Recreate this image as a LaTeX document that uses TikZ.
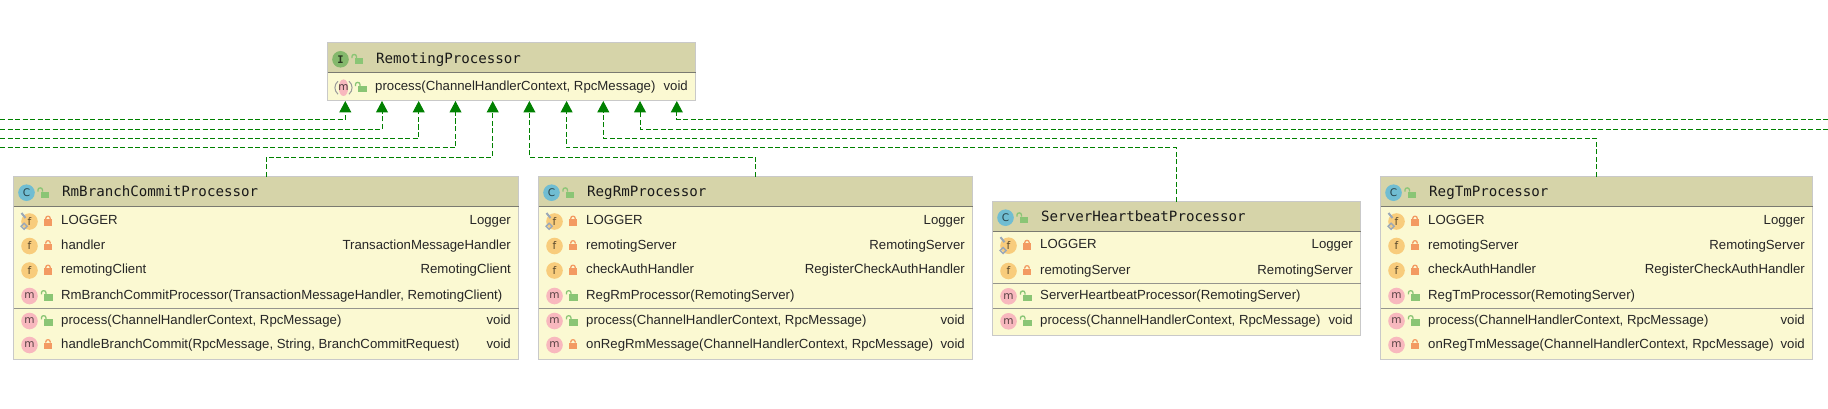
\documentclass[tikz,border=0pt]{standalone}
\usepackage{fontspec}
\setmainfont{Liberation Sans}
\newfontfamily\monof{DejaVu Sans Mono}
\newfontfamily\iconf{DejaVu Sans}
\usetikzlibrary{arrows.meta}
\definecolor{hdr}{HTML}{D6D4A9}
\definecolor{bodyc}{HTML}{FBF9D2}
\definecolor{bord}{HTML}{C9C9C9}
\definecolor{sepc}{HTML}{7A7A70}
\definecolor{fcirc}{HTML}{F8CC7C}
\definecolor{mcirc}{HTML}{F8B8BE}
\definecolor{ccirc}{HTML}{70BDD2}
\definecolor{icirc}{HTML}{84B86C}
\definecolor{lockor}{HTML}{F39A62}
\definecolor{lockgr}{HTML}{8AC575}
\definecolor{statc}{HTML}{9AA8B8}
\definecolor{arrowg}{HTML}{008000}
\tikzset{
  x=1pt,y=-1pt,
  boxbody/.style={draw=bord,line width=1pt,fill=bodyc,inner sep=0pt,outer sep=0pt},
  boxhead/.style={fill=hdr,inner sep=0pt,outer sep=0pt},
  headline/.style={draw=sepc,line width=0.9pt},
  rowline/.style={draw=sepc!80,line width=0.9pt},
  titletext/.style={anchor=base west,inner sep=0pt,font=\monof\fontsize{14.15}{16}\selectfont,text=black!90},
  rowtext/.style={anchor=base west,inner sep=0pt,font=\fontsize{13.2}{15}\selectfont,text=black!85},
  typetext/.style={anchor=base east,inner sep=0pt,font=\fontsize{13.2}{15}\selectfont,text=black!85},
  icon/.style={circle,minimum size=16.6pt,inner sep=0pt,font=\iconf\fontsize{10.5}{12}\selectfont},
  icf/.style={icon,fill=fcirc,text=black!65!fcirc},
  icm/.style={icon,fill=mcirc,text=black!65!mcirc},
  icc/.style={icon,fill=ccirc,text=black!65!ccirc},
  ici/.style={icon,fill=icirc,text=black!70!icirc,font=\monof\bfseries\fontsize{10.5}{12}\selectfont},
  icabs/.style={icon,text=black!70!mcirc},
  lockc/.pic={
    \draw[lockor,line width=1.3pt] (-2.2,-2.5) -- (-2.2,-3.2) .. controls (-2.2,-6) and (2.2,-6) .. (2.2,-3.2) -- (2.2,-2.5);
    \fill[lockor] (-4,-2.5) rectangle (4,4.2);
  },
  locko/.pic={
    \draw[lockgr,line width=1.3pt] (-6.6,-1.6) -- (-6.6,-3.2) .. controls (-6.6,-6) and (-2,-6) .. (-2,-3.2) -- (-2,-1.6);
    \fill[lockgr] (-4,-1.6) rectangle (4.6,4.6);
  },
  statmark/.pic={
    \draw[statc,line width=2pt] (-8,-8.5) -- (-4,-3.5);
    \draw[statc,line width=1.4pt] (-5.4,1.8) -- (-2.4,4.8) -- (-5.4,7.8) -- (-8.4,4.8) -- cycle;
  },
  absmark/.pic={
    \fill[mcirc] (0,-8.3) .. controls (6.2,-8.3) and (6.2,8.3) .. (0,8.3) .. controls (-6.2,8.3) and (-6.2,-8.3) .. (0,-8.3) -- cycle;
    \draw[black!40,line width=1pt] (-5.5,-6.5) .. controls (-9.6,-3) and (-9.6,3) .. (-5.5,6.5);
    \draw[black!40,line width=1pt] (5.5,-6.5) .. controls (9.6,-3) and (9.6,3) .. (5.5,6.5);
  },
  realize/.style={draw=arrowg,line width=1pt,dash pattern=on 5pt off 2.5pt,
    -{Triangle[length=11.5pt,width=12pt,fill=arrowg,sep=0pt]},
    },
}
% box: id, left, top, right, bottom, header bottom
\newcommand{\cbox}[6]{%
  \node[boxbody,minimum width=#4-#2,minimum height=#5-#3] (#1) at ({(#2+#4)/2},{(#3+#5)/2}) {};
  \node[boxhead,minimum width=#4-#2-1,minimum height=#6-#3-1] (#1h) at ({(#2+#4)/2},{(#3+#6)/2}) {};
  \draw[headline] (#1.west |- #1h.south) -- (#1.east |- #1h.south);
}
% header contents: id, left, baseline, icon style, letter, title
\newcommand{\chead}[6]{%
  \node[#4] (#1ic) at (#2+13,#3-4) {#5};
  \pic at (#2+31,#3-3.5) {locko};
  \node[titletext] (#1t) at (#2+48.5,#3) {#6};
}
% row: id, left, baseline, icon letter, lock, label
\newcommand{\crow}[6]{%
  \node[ic#4] (#1i) at (#2+16,#3-3) {#4};
  \pic at (#2+34.5,#3-3) {#5};
  \node[rowtext] (#1t) at (#2+47.5,#3) {#6};
}
% type: id, right, baseline, text
\newcommand{\ctype}[4]{\node[typetext] (#1r) at (#2-7.5,#3) {#4};}
\begin{document}
\begin{tikzpicture}
\useasboundingbox (0,0) rectangle (1828,409);
\fill[white] (0,0) rectangle (1828,409);

% RemotingProcessor
\cbox{rp}{327.5}{42.5}{695.5}{100.5}{73}
\chead{rph}{327.5}{63.3}{ici}{I}{RemotingProcessor}
\pic at (343.5,87.7) {absmark};
\node[icabs] (rp1i) at (343.5,87.7) {m};
\pic at (362,87.7) {locko};
\node[rowtext] (rp1t) at (375,90.7) {process(ChannelHandlerContext, RpcMessage)};
\ctype{rp1}{695.5}{90.7}{void}

% RmBranchCommitProcessor
\cbox{rb}{13.5}{176.7}{518.5}{359.3}{207}
\chead{rbh}{13.5}{196.7}{icc}{C}{RmBranchCommitProcessor}
\crow{rb1}{13.5}{224.5}{f}{lockc}{LOGGER}\ctype{rb1}{518.5}{224.5}{Logger}
\pic at (29.5,221.5) {statmark};
\crow{rb2}{13.5}{249}{f}{lockc}{handler}\ctype{rb2}{518.5}{249}{TransactionMessageHandler}
\crow{rb3}{13.5}{273.5}{f}{lockc}{remotingClient}\ctype{rb3}{518.5}{273.5}{RemotingClient}
\crow{rb4}{13.5}{299}{m}{locko}{RmBranchCommitProcessor(TransactionMessageHandler, RemotingClient)}
\draw[rowline] (rb.west |- 0,308.3) -- (rb.east |- 0,308.3);
\crow{rb5}{13.5}{324}{m}{locko}{process(ChannelHandlerContext, RpcMessage)}\ctype{rb5}{518.5}{324}{void}
\crow{rb6}{13.5}{348}{m}{lockc}{handleBranchCommit(RpcMessage, String, BranchCommitRequest)}\ctype{rb6}{518.5}{348}{void}

% RegRmProcessor
\cbox{rm}{538.5}{176.7}{972.5}{359.3}{207}
\chead{rmh}{538.5}{196.7}{icc}{C}{RegRmProcessor}
\crow{rm1}{538.5}{224.5}{f}{lockc}{LOGGER}\ctype{rm1}{972.5}{224.5}{Logger}
\pic at (554.5,221.5) {statmark};
\crow{rm2}{538.5}{249}{f}{lockc}{remotingServer}\ctype{rm2}{972.5}{249}{RemotingServer}
\crow{rm3}{538.5}{273.5}{f}{lockc}{checkAuthHandler}\ctype{rm3}{972.5}{273.5}{RegisterCheckAuthHandler}
\crow{rm4}{538.5}{299}{m}{locko}{RegRmProcessor(RemotingServer)}
\draw[rowline] (rm.west |- 0,308.3) -- (rm.east |- 0,308.3);
\crow{rm5}{538.5}{324}{m}{locko}{process(ChannelHandlerContext, RpcMessage)}\ctype{rm5}{972.5}{324}{void}
\crow{rm6}{538.5}{348}{m}{lockc}{onRegRmMessage(ChannelHandlerContext, RpcMessage)}\ctype{rm6}{972.5}{348}{void}

% ServerHeartbeatProcessor
\cbox{sh}{992.5}{201.7}{1360.5}{335.3}{232.3}
\chead{shh}{992.5}{221.7}{icc}{C}{ServerHeartbeatProcessor}
\crow{sh1}{992.5}{248.7}{f}{lockc}{LOGGER}\ctype{sh1}{1360.5}{248.7}{Logger}
\pic at (1008.5,245.7) {statmark};
\crow{sh2}{992.5}{274}{f}{lockc}{remotingServer}\ctype{sh2}{1360.5}{274}{RemotingServer}
\draw[rowline] (sh.west |- 0,283.3) -- (sh.east |- 0,283.3);
\crow{sh3}{992.5}{299.3}{m}{locko}{ServerHeartbeatProcessor(RemotingServer)}
\draw[rowline] (sh.west |- 0,308.3) -- (sh.east |- 0,308.3);
\crow{sh4}{992.5}{324.3}{m}{locko}{process(ChannelHandlerContext, RpcMessage)}\ctype{sh4}{1360.5}{324.3}{void}

% RegTmProcessor
\cbox{tm}{1380.5}{176.7}{1812.5}{359.3}{207}
\chead{tmh}{1380.5}{196.7}{icc}{C}{RegTmProcessor}
\crow{tm1}{1380.5}{224.5}{f}{lockc}{LOGGER}\ctype{tm1}{1812.5}{224.5}{Logger}
\pic at (1396.5,221.5) {statmark};
\crow{tm2}{1380.5}{249}{f}{lockc}{remotingServer}\ctype{tm2}{1812.5}{249}{RemotingServer}
\crow{tm3}{1380.5}{273.5}{f}{lockc}{checkAuthHandler}\ctype{tm3}{1812.5}{273.5}{RegisterCheckAuthHandler}
\crow{tm4}{1380.5}{299}{m}{locko}{RegTmProcessor(RemotingServer)}
\draw[rowline] (tm.west |- 0,308.3) -- (tm.east |- 0,308.3);
\crow{tm5}{1380.5}{324}{m}{locko}{process(ChannelHandlerContext, RpcMessage)}\ctype{tm5}{1812.5}{324}{void}
\crow{tm6}{1380.5}{348}{m}{lockc}{onRegTmMessage(ChannelHandlerContext, RpcMessage)}\ctype{tm6}{1812.5}{348}{void}

% arrow tips on the interface
\foreach \n/\x in {1/345.3,2/382,3/418.7,4/455.5,5/492.7,6/529.4,7/566.6,8/603.3,9/640,10/676.8}
  \coordinate (a\n) at (\x,101);
% free ends at the picture's edges
\coordinate (l1) at (0,119.3);
\coordinate (l2) at (0,129.3);
\coordinate (l3) at (0,138.3);
\coordinate (l4) at (0,148);
\coordinate (r1) at (1828,119.3);
\coordinate (r2) at (1828,129.3);
\coordinate (lane5) at (0,157);
\coordinate (lane7) at (0,148);
\coordinate (lane8) at (0,138.3);

\draw[realize] (l1) -| (a1);
\draw[realize] (l2) -| (a2);
\draw[realize] (l3) -| (a3);
\draw[realize] (l4) -| (a4);
\draw[realize] (rb.north) |- (a5 |- lane5) -- (a5);
\draw[realize] (rm.north) |- (a6 |- lane5) -- (a6);
\draw[realize] (sh.north) |- (a7 |- lane7) -- (a7);
\draw[realize] (tm.north) |- (a8 |- lane8) -- (a8);
\draw[realize] (r2) -| (a9);
\draw[realize] (r1) -| (a10);
\end{tikzpicture}
\end{document}
